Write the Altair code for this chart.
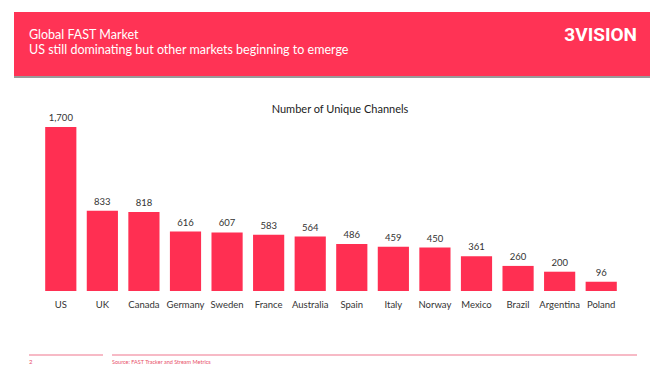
import altair as alt
import pandas as pd

countries = ["US", "UK", "Canada", "Germany", "Sweden", "France", "Australia",
             "Spain", "Italy", "Norway", "Mexico", "Brazil", "Argentina", "Poland"]
channels = [1700, 833, 818, 616, 607, 583, 564, 486, 459, 450, 361, 260, 200, 96]

title_main = "Global FAST Market"
title_sub = "US still dominating but other markets beginning to emerge"
brand = "3VISION"
chart_title = "Number of Unique Channels"
page_no = "2"
source = "Source:  FAST Tracker and Stream Metrics"

FONT = "Lato"
RED = "#FF2F52"
BANNER = "#FF3355"

df = pd.DataFrame({"country": countries, "channels": channels})
one = pd.DataFrame({"k": [0]})

x_enc = alt.X("country:N", sort=countries,
              scale=alt.Scale(paddingInner=0.25, paddingOuter=0.125),
              axis=alt.Axis(title=None, domain=False, ticks=False, labelAngle=0,
                            labelPadding=8, labelFont=FONT, labelFontSize=9.5,
                            labelColor="#333333", labelBaseline="top"))
y_enc = alt.Y("channels:Q", scale=alt.Scale(domain=[0, 1980], nice=False),
              axis=None)

bars = alt.Chart(df).mark_bar(color=RED).encode(x=x_enc, y=y_enc)
labels = alt.Chart(df).mark_text(dy=-4, baseline="bottom", font=FONT, fontSize=9.5,
                                 color="#333333").encode(
    x=alt.X("country:N", sort=countries), y="channels:Q",
    text=alt.Text("channels:Q", format=","))

banner = alt.Chart(one).mark_rect(color=BANNER).encode(
    x=alt.value(-26), x2=alt.value(610), y=alt.value(-88), y2=alt.value(-24))
shadow = alt.Chart(one).mark_rect(color="#9a9a9a").encode(
    x=alt.value(-26), x2=alt.value(610), y=alt.value(-24), y2=alt.value(-22))
t1 = alt.Chart(one).mark_text(align="left", baseline="alphabetic", font=FONT,
                              fontSize=12.5, color="white").encode(
    x=alt.value(-11), y=alt.value(-61), text=alt.value(title_main))
t2 = alt.Chart(one).mark_text(align="left", baseline="alphabetic", font=FONT,
                              fontSize=12.5, color="white").encode(
    x=alt.value(-11), y=alt.value(-46), text=alt.value(title_sub))
t3 = alt.Chart(one).mark_text(align="right", baseline="alphabetic", font="Roboto",
                              fontSize=19, fontWeight="bold", color="white").encode(
    x=alt.value(597), y=alt.value(-59), text=alt.value(brand))
ct = alt.Chart(one).mark_text(align="center", baseline="middle", font=FONT,
                              fontSize=11, color="#222222").encode(
    x=alt.value(300), y=alt.value(10), text=alt.value(chart_title))
l1 = alt.Chart(one).mark_rule(color="#F4A3B3", strokeWidth=1.5).encode(
    x=alt.value(-11), x2=alt.value(63), y=alt.value(255))
l2 = alt.Chart(one).mark_rule(color="#F4A3B3", strokeWidth=1.5).encode(
    x=alt.value(72), x2=alt.value(597), y=alt.value(255))
f1 = alt.Chart(one).mark_text(align="left", baseline="middle", font=FONT,
                              fontSize=6, color="#E8506A").encode(
    x=alt.value(-11), y=alt.value(262), text=alt.value(page_no))
f2 = alt.Chart(one).mark_text(align="left", baseline="middle", font=FONT,
                              fontSize=5.5, color="#E8506A").encode(
    x=alt.value(72), y=alt.value(262), text=alt.value(source))

chart = alt.layer(banner, shadow, t1, t2, t3, ct, bars, labels, l1, l2, f1, f2).properties(
    width=582, height=191,
    autosize=alt.AutoSizeParams(type="none"),
    padding={"left": 40, "top": 100, "right": 33, "bottom": 84},
    background="white",
).configure_view(stroke=None)

chart.save("out.html", embed_options={"renderer": "svg", "actions": False})
